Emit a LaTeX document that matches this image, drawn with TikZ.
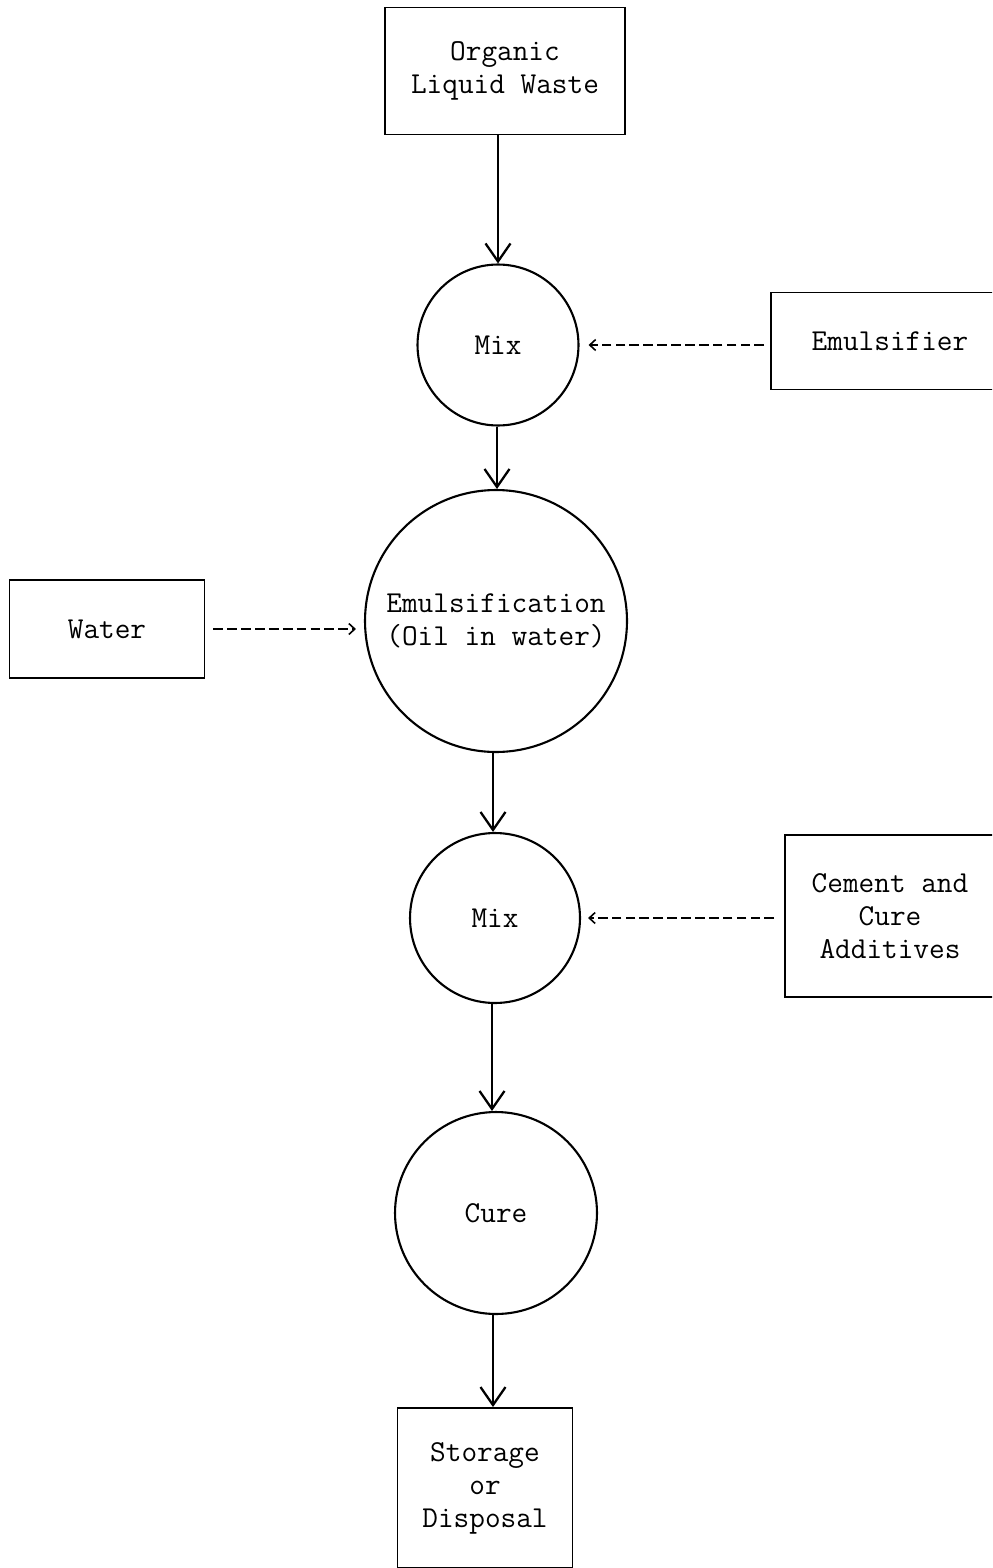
\documentclass[tikz,border=0pt]{standalone}
\usepackage{tikz}
\usetikzlibrary{arrows.meta}
\usetikzlibrary{positioning}

\begin{document}
\begin{tikzpicture}[
    x=0.02cm, y=-0.02cm,
    every node/.style={font=\ttfamily\fontsize{17.3}{18.8}\selectfont, align=center},
    feedbox/.style={draw, line width=1.1pt, inner sep=0pt},
    stage/.style={draw, circle, line width=1.2pt, inner sep=0pt},
    flow/.style={line width=1.3pt, -{Straight Barb[length=0.36cm, width=0.5cm, line width=1.3pt]}},
    feed/.style={line width=0.8pt, dash pattern=on 5.5pt off 2.4pt,
        -{Straight Barb[length=0.12cm, width=0.22cm, line width=0.9pt]}}
  ]
  \clip (0,0) rectangle (992,1568);
  \useasboundingbox (0,0) rectangle (992,1568);

  % main line
  \node[feedbox, minimum width=4.8cm, minimum height=2.54cm] (waste) at (505,71) {Organic\\Liquid Waste};
  \node[stage, minimum size=3.22cm] (mix_a) at (498,345) {Mix};
  \node[stage, minimum size=5.24cm] (emul) at (496,621) {Emulsification\\(Oil in water)};
  \node[stage, minimum size=3.4cm] (mix_b) at (495,918) {Mix};
  \node[stage, minimum size=4.04cm] (cure) at (496,1213) {Cure};
  \node[feedbox, minimum width=3.5cm, minimum height=3.2cm] (store) at (485,1488) {Storage\\or\\Disposal};

  % side inputs
  \node[feedbox, minimum width=4.76cm, minimum height=1.94cm] (emulsifier) at (890,341) {Emulsifier};
  \node[feedbox, minimum width=3.9cm, minimum height=1.96cm] (water) at (107,629) {Water};
  \node[feedbox, minimum width=4.2cm, minimum height=3.24cm] (cement) at (890,916) {Cement and\\Cure\\Additives};

  \draw[flow] (waste.south -| mix_a) -- (mix_a);
  \draw[flow] (mix_a.south -| 497,0) -- (emul.north -| 497,0);
  \draw[flow] (emul.south -| 493,0) -- (mix_b.north -| 493,0);
  \draw[flow] (mix_b.south -| 492,0) -- (cure.north -| 492,0);
  \draw[flow] (cure.south -| 493,0) -- (store.north -| 493,0);

  \draw[feed, shorten <=0.12cm, shorten >=0.18cm] (emulsifier.west |- mix_a) -- (mix_a);
  \draw[feed, shorten <=0.16cm, shorten >=0.16cm] (water.east) -- (water.east -| emul.west);
  \draw[feed, shorten <=0.2cm, shorten >=0.14cm] (cement.west |- mix_b) -- (mix_b);

\end{tikzpicture}
\end{document}
